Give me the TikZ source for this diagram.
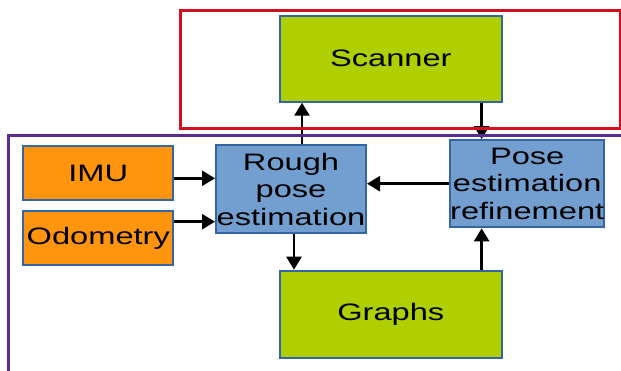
\documentclass[tikz,border=0pt]{standalone}
\usepackage{fontspec}
\setmainfont{Liberation Sans}[FakeStretch=1.37]
\usetikzlibrary{arrows.meta}
\definecolor{boxgreen}{HTML}{AFCF00}
\definecolor{boxorange}{HTML}{FF950E}
\definecolor{boxblue}{HTML}{729FCF}
\definecolor{boxedge}{HTML}{3465A4}
\definecolor{framered}{HTML}{D0101E}
\definecolor{framepurple}{HTML}{5B2C8F}
\tikzset{
  blk/.style={draw=boxedge, line width=2pt, inner sep=0pt, align=center,
    font=\fontsize{23.8}{27.5}\selectfont},
  greenblk/.style={blk, fill=boxgreen},
  orangeblk/.style={blk, fill=boxorange},
  blueblk/.style={blk, fill=boxblue},
  arr/.style={line width=2.5pt, -{Triangle[width=15pt,length=13pt]}},
}
\begin{document}
\begin{tikzpicture}[x=1pt,y=-1pt]
\useasboundingbox (0,0) rectangle (621,371);
\clip (0,0) rectangle (621,371);
\node[greenblk, minimum width=221.7pt, minimum height=86pt] (scanner) at (390.8,58.7) {Scanner};
\node[greenblk, minimum width=221.7pt, minimum height=87.6pt] (graphs) at (390.8,314.5) {Graphs};
\node[orangeblk, minimum width=150pt, minimum height=54pt] (imu) at (98.3,173) {IMU};
\node[orangeblk, minimum width=150pt, minimum height=54.3pt] (odo) at (98.3,238.2) {Odometry};
\node[blueblk, minimum width=150pt, minimum height=88.3pt] (rough) at (291,189.2) {Rough\\pose\\estimation};
\node[blueblk, minimum width=151pt, minimum height=87.3pt] (pose) at (527.2,183.7) {Pose\\estimation\\refinement};
% connector anchors
\coordinate (imuout) at ([yshift=-5.3pt]imu.east);
\coordinate (odoout) at ([yshift=16.5pt]odo.east);
% connectors
\draw[arr] ([xshift=11pt]rough.north) -- ([xshift=11pt]rough.north |- scanner.south);
\draw[arr] ([xshift=-21pt]scanner.south east) -- ([xshift=-21pt]scanner.south east |- pose.north);
\draw[arr] ([xshift=-21pt]graphs.north east) -- ([xshift=-21pt]graphs.north east |- pose.south);
\draw[arr] ([xshift=3pt]rough.south) -- ([xshift=3pt]rough.south |- graphs.north);
\draw[arr] (pose.west) -- (rough.east |- pose.west);
\draw[arr] (imuout) -- (rough.west |- imuout);
\draw[arr] (odoout) -- (rough.west |- odoout);
% frames
\draw[framered, line width=2.5pt] (180.5,10.5) rectangle (620.5,128.5);
\draw[framepurple, line width=2.5pt] (640,135.5) -- (8.5,135.5) -- (8.5,390);
\end{tikzpicture}
\end{document}
